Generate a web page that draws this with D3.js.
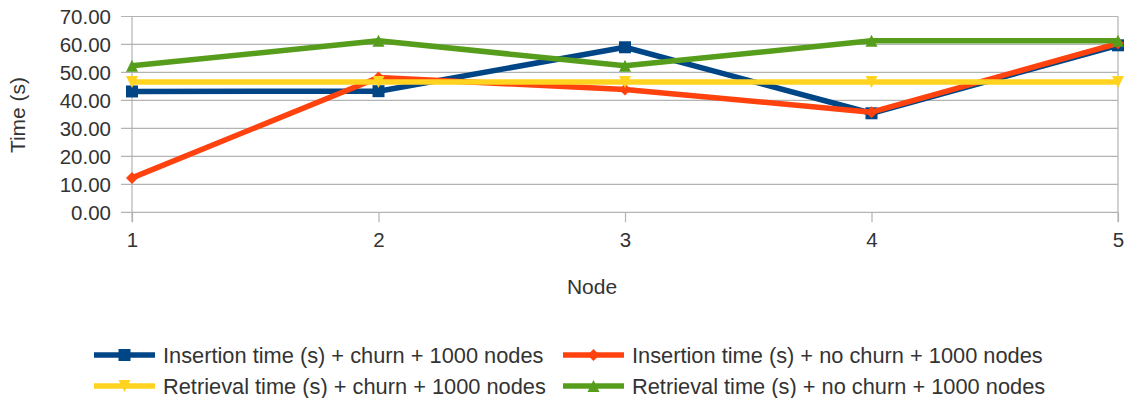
<!DOCTYPE html>
<html>
<head>
<meta charset="utf-8">
<script src="https://cdn.jsdelivr.net/npm/d3@7"></script>
<style>
  html, body { margin: 0; padding: 0; background: #fff; }
  svg { display: block; font-family: "Liberation Sans", Arial, sans-serif; }
</style>
</head>
<body>
<svg id="chart" width="1128" height="398"></svg>
<script>
// Node index along the x axis
const nodes = [1, 2, 3, 4, 5];
const yTicks = [0, 10, 20, 30, 40, 50, 60, 70];

// Timing series (seconds)
const insertChurn   = [43.2, 43.3, 59.0, 35.4, 59.7];
const insertNoChurn = [12.3, 48.2, 43.9, 35.8, 60.4];
const retrieveChurn = [46.6, 46.6, 46.6, 46.6, 46.6];
const retrieveNoChurn = [52.4, 61.3, 52.4, 61.3, 61.3];

const seriesNames = [
  "Insertion time (s) + churn + 1000 nodes",
  "Insertion time (s) + no churn + 1000 nodes",
  "Retrieval time (s) + churn + 1000 nodes",
  "Retrieval time (s) + no churn + 1000 nodes"
];
const seriesColors = ["#004586", "#ff420e", "#ffd320", "#579d1c"];
const seriesSymbols = ["square", "diamond", "down", "up"];
const seriesValues = [insertChurn, insertNoChurn, retrieveChurn, retrieveNoChurn];

const series = seriesNames.map((name, i) => ({
  name, color: seriesColors[i], symbol: seriesSymbols[i],
  values: seriesValues[i].map((v, j) => ({ x: nodes[j], y: v }))
}));

const svg = d3.select("#chart");
const x = d3.scaleLinear().domain([1, 5]).range([132, 1118]);
const y = d3.scaleLinear().domain([0, 70]).range([212.3, 16.5]);

const gridColor = "#b3b3b3";
const textColor = "#333333";
const font = "Liberation Sans, Arial, sans-serif";

// Horizontal grid lines
svg.append("g").selectAll("line").data(yTicks).join("line")
  .attr("x1", 121).attr("x2", 1118)
  .attr("y1", d => y(d)).attr("y2", d => y(d))
  .attr("stroke", gridColor).attr("stroke-width", 1.2);

// Y axis labels
const yAxis = d3.axisLeft(y).tickValues(yTicks).tickFormat(d3.format(".2f")).tickSize(0).tickPadding(0);
const gy = svg.append("g").attr("transform", "translate(111,0)").call(yAxis);
gy.select(".domain").remove();
gy.selectAll("text").attr("font-size", 20.5).attr("fill", textColor)
  .attr("font-family", font).attr("dy", "0.35em");

// Vertical axis line and right border
svg.append("line").attr("x1", x(1)).attr("x2", x(1)).attr("y1", y(70)).attr("y2", 222)
  .attr("stroke", gridColor).attr("stroke-width", 1.2);
svg.append("line").attr("x1", x(5)).attr("x2", x(5)).attr("y1", y(70)).attr("y2", 222)
  .attr("stroke", gridColor).attr("stroke-width", 1.2);

// X axis ticks and labels
const xAxis = d3.axisBottom(x).tickValues(nodes).tickFormat(d3.format("d")).tickSize(10).tickPadding(10);
const gx = svg.append("g").attr("transform", `translate(0,${y(0)})`).call(xAxis);
gx.select(".domain").remove();
gx.selectAll("line").attr("stroke", gridColor).attr("stroke-width", 1.2);
gx.selectAll("text").attr("font-size", 20.5).attr("fill", textColor)
  .attr("font-family", font);

// Axis titles
svg.append("text").attr("x", 592).attr("y", 294).attr("text-anchor", "middle")
  .attr("font-size", 21).attr("fill", textColor).text("Node");
svg.append("text").attr("transform", "translate(25,115) rotate(-90)").attr("text-anchor", "middle")
  .attr("font-size", 21).attr("fill", textColor).text("Time (s)");

function markerPath(sym, size) {
  const r = size / 2;
  if (sym === "up" || sym === "down") {
    const s = sym === "up" ? 1 : -1;
    return `M0,${-s * r}L${r},${s * r}L${-r},${s * r}Z`;
  }
  if (sym === "diamond") return `M0,${-r}L${r},0L0,${r}L${-r},0Z`;
  return `M${-r},${-r}H${r}V${r}H${-r}Z`;
}

const line = d3.line().x(d => x(d.x)).y(d => y(d.y));

// Series lines and markers
series.forEach(s => {
  const g = svg.append("g");
  g.append("path").datum(s.values).attr("d", line)
    .attr("fill", "none").attr("stroke", s.color).attr("stroke-width", 5.5)
    .attr("stroke-linejoin", "round");
  g.selectAll("path.m").data(s.values).join("path").attr("class", "m")
    .attr("transform", d => `translate(${x(d.x)},${y(d.y)})`)
    .attr("d", markerPath(s.symbol, 12))
    .attr("fill", s.color);
});

// Legend
const legendPos = [[94, 355], [563, 355], [94, 386], [563, 386]];
series.forEach((s, i) => {
  const [lx, ly] = legendPos[i];
  const g = svg.append("g").attr("transform", `translate(${lx},${ly})`);
  g.append("line").attr("x1", 0).attr("x2", 61).attr("y1", 0).attr("y2", 0)
    .attr("stroke", s.color).attr("stroke-width", 5.5);
  g.append("path").attr("transform", "translate(30.5,0)").attr("d", markerPath(s.symbol, 12)).attr("fill", s.color);
  g.append("text").attr("x", 69).attr("y", 0).attr("dy", "0.35em")
    .attr("font-size", 21.8).attr("fill", textColor).text(s.name);
});
</script>
</body>
</html>
